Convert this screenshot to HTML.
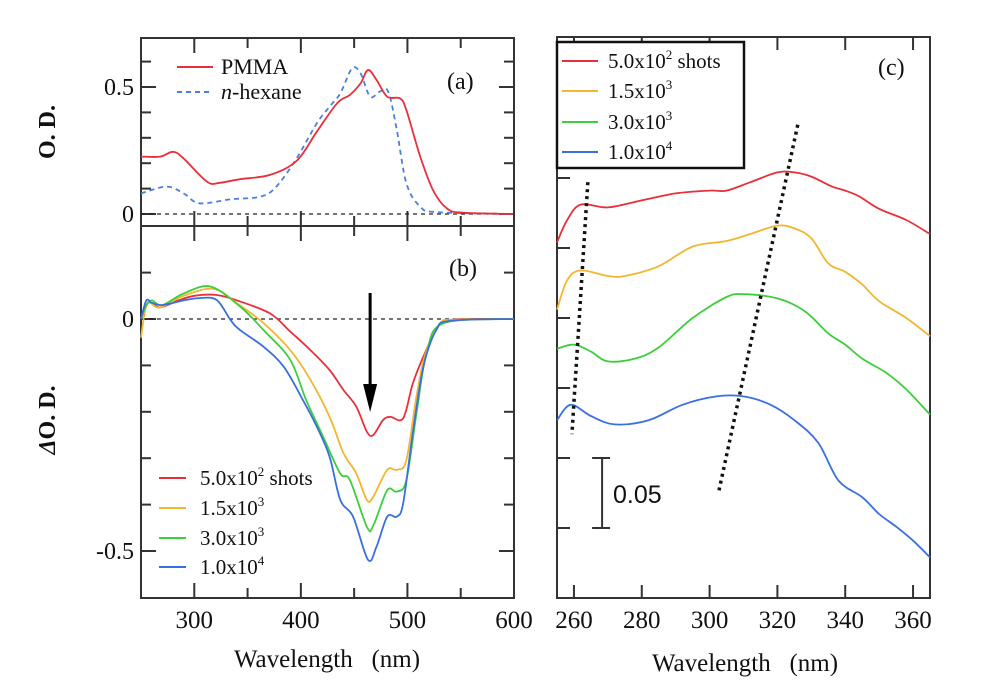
<!DOCTYPE html>
<html><head><meta charset="utf-8"><style>
html,body{margin:0;padding:0;background:#fff;overflow:hidden}
svg{display:block}
svg text{font-family:"Liberation Serif","DejaVu Serif",serif}
svg text.sans{font-family:"Liberation Sans","DejaVu Sans",sans-serif}
</style></head><body>
<svg id="fig" width="1000" height="692" viewBox="0 0 1000 692">
<g id="g"></g>

<g>
  <line x1="177" y1="67" x2="213" y2="67" stroke="#e8303a" stroke-width="2"/>
  <text x="221" y="74" font-size="22" fill="#111">PMMA</text>
  <line x1="177" y1="92" x2="213" y2="92" stroke="#4a7fe0" stroke-width="2" stroke-dasharray="5,4"/>
  <text x="221" y="99" font-size="22" fill="#111"><tspan font-style="italic">n</tspan>-hexane</text>
</g>
<text x="447" y="89" font-size="24" fill="#111">(a)</text>
<text x="449" y="276" font-size="24" fill="#111">(b)</text>
<text x="878" y="75" font-size="24" fill="#111">(c)</text>

<g font-size="21" fill="#111">
  <line x1="159" y1="478" x2="186" y2="478" stroke="#e8303a" stroke-width="2"/>
  <text x="200" y="485">5.0x10<tspan dy="-9" font-size="13">2</tspan><tspan dy="9"> shots</tspan></text>
  <line x1="159" y1="508" x2="186" y2="508" stroke="#f2b630" stroke-width="2"/>
  <text x="200" y="515">1.5x10<tspan dy="-9" font-size="13">3</tspan></text>
  <line x1="159" y1="538" x2="186" y2="538" stroke="#3ccf3c" stroke-width="2"/>
  <text x="200" y="545">3.0x10<tspan dy="-9" font-size="13">3</tspan></text>
  <line x1="159" y1="567" x2="186" y2="567" stroke="#3a6fe0" stroke-width="2"/>
  <text x="200" y="574">1.0x10<tspan dy="-9" font-size="13">4</tspan></text>
</g>

<text transform="translate(55,132) rotate(-90)" text-anchor="middle" font-size="24" font-weight="bold" fill="#111">O. D.</text>
<text transform="translate(55,420) rotate(-90)" text-anchor="middle" font-size="24" font-weight="bold" fill="#111"><tspan font-style="italic">Δ</tspan>O. D.</text>
<text x="327" y="667" text-anchor="middle" font-size="25" fill="#111" xml:space="preserve">Wavelength   (nm)</text>
<text x="745" y="671" text-anchor="middle" font-size="25" fill="#111" xml:space="preserve">Wavelength   (nm)</text>

<g font-size="21" fill="#111">
  <rect x="557" y="42" width="187" height="126" fill="#fff" stroke="#111" stroke-width="2.5"/>
  <line x1="562" y1="61" x2="598" y2="61" stroke="#e8303a" stroke-width="2"/>
  <text x="608" y="68">5.0x10<tspan dy="-9" font-size="13">2</tspan><tspan dy="9"> shots</tspan></text>
  <line x1="562" y1="91" x2="598" y2="91" stroke="#f2b630" stroke-width="2"/>
  <text x="608" y="98">1.5x10<tspan dy="-9" font-size="13">3</tspan></text>
  <line x1="562" y1="122" x2="598" y2="122" stroke="#3ccf3c" stroke-width="2"/>
  <text x="608" y="129">3.0x10<tspan dy="-9" font-size="13">3</tspan></text>
  <line x1="562" y1="152" x2="598" y2="152" stroke="#3a6fe0" stroke-width="2"/>
  <text x="608" y="159">1.0x10<tspan dy="-9" font-size="13">4</tspan></text>
</g>
</svg>
<script>
// ---------- data ----------
const pmmaX=[250,268,280,290,312,324,343,371,396,415,434,446,456,463,471,481,493,499,512,524,537,552,599];
const pmmaY=[0.226,0.226,0.245,0.219,0.127,0.123,0.137,0.154,0.209,0.324,0.436,0.469,0.514,0.567,0.528,0.462,0.455,0.409,0.226,0.094,0.022,0.005,0.0];
const hexX=[250,274,290,305,334,362,377,396,415,427,437,448,456,465,474,482,490,499,512,528,599];
const hexY=[0.081,0.108,0.081,0.042,0.058,0.068,0.108,0.219,0.357,0.423,0.475,0.573,0.554,0.462,0.482,0.482,0.331,0.121,0.029,0.007,0.0];

const bRedX=[250,257,268,285,300,320,340,371,390,409,427,440,452,462,468,477,484,496,505,515,527,540,600];
const bRedY=[0.0,0.035,0.025,0.04,0.05,0.052,0.04,0.012,-0.027,-0.067,-0.110,-0.153,-0.189,-0.243,-0.250,-0.218,-0.211,-0.214,-0.139,-0.081,-0.024,-0.002,0];
const bYelX=[250,254,258,268,290,318,340,365,390,409,427,440,452,462,468,481,490,499,509,518,531,543,600];
const bYelY=[-0.04,0.02,0.035,0.025,0.05,0.065,0.034,-0.009,-0.067,-0.131,-0.211,-0.289,-0.333,-0.390,-0.383,-0.325,-0.325,-0.304,-0.160,-0.067,-0.009,-0.002,0];
const bGrnX=[250,255,260,270,290,315,343,365,390,405,421,437,446,462,468,481,490,499,509,518,534,600];
const bGrnY=[0.0,0.03,0.04,0.03,0.055,0.07,0.027,-0.024,-0.088,-0.175,-0.254,-0.333,-0.347,-0.448,-0.445,-0.369,-0.372,-0.347,-0.196,-0.074,-0.009,0];
const bBluX=[250,255,260,270,290,305,321,334,343,365,384,402,415,427,437,449,463,471,481,490,496,505,515,527,540,600];
const bBluY=[0.0,0.04,0.035,0.03,0.04,0.045,0.041,-0.002,-0.024,-0.060,-0.103,-0.175,-0.232,-0.297,-0.390,-0.426,-0.519,-0.491,-0.426,-0.426,-0.397,-0.246,-0.103,-0.024,-0.004,0];

const cRedX=[255,258,262,270,280,290,300,305,312,320,325,330,336,340,344,350,358,365];
const cRedY=[0.254,0.270,0.281,0.279,0.284,0.289,0.291,0.291,0.297,0.304,0.304,0.301,0.294,0.291,0.287,0.278,0.270,0.260];
const cYelX=[255,258,262,270,275,285,295,305,312,320,325,330,335,340,345,350,358,365];
const cYelY=[0.206,0.227,0.234,0.230,0.230,0.237,0.251,0.255,0.260,0.266,0.264,0.257,0.239,0.233,0.224,0.212,0.200,0.187];
const cGrnX=[255,260,265,270,278,285,295,305,310,320,328,335,340,345,352,358,365];
const cGrnY=[0.178,0.181,0.176,0.169,0.171,0.179,0.200,0.215,0.217,0.214,0.205,0.189,0.181,0.171,0.161,0.149,0.131];
const cBluX=[255,259,265,272,282,292,302,310,318,325,332,338,345,350,355,360,365];
const cBluY=[0.127,0.138,0.130,0.124,0.127,0.138,0.144,0.144,0.138,0.127,0.111,0.084,0.072,0.060,0.051,0.041,0.029];

const abTicks=[300,400,500,600];
const cTicks=[260,280,300,320,340,360];
const colors=["#e8303a","#f2b630","#3ccf3c","#3a6fe0"];

// ---------- axes ----------
const xAB=v=>141+(v-250)*(373/350);
const yA=v=>214-v*254;
const yB=v=>319-v*464;
const xC=v=>557+(v-255)*(373/110);
const yC=v=>598-v*1400;

const NS="http://www.w3.org/2000/svg";
const G=document.getElementById('g');
function el(t,a,parent){const e=document.createElementNS(NS,t);for(const k in a)e.setAttribute(k,a[k]);(parent||G).appendChild(e);return e;}
function smooth(xs,ys,fx,fy){
  const p=xs.map((x,i)=>[fx(x),fy(ys[i])]);
  let d="M"+p[0][0].toFixed(1)+","+p[0][1].toFixed(1);
  for(let i=0;i<p.length-1;i++){
    const p0=p[i-1]||p[i],p1=p[i],p2=p[i+1],p3=p[i+2]||p2;
    const c1=[p1[0]+(p2[0]-p0[0])/6,p1[1]+(p2[1]-p0[1])/6];
    const c2=[p2[0]-(p3[0]-p1[0])/6,p2[1]-(p3[1]-p1[1])/6];
    d+=" C"+c1[0].toFixed(1)+","+c1[1].toFixed(1)+" "+c2[0].toFixed(1)+","+c2[1].toFixed(1)+" "+p2[0].toFixed(1)+","+p2[1].toFixed(1);
  }
  return d;
}
function line(x1,y1,x2,y2,extra){return el('line',Object.assign({x1,y1,x2,y2,stroke:'#333','stroke-width':2},extra||{}));}
function text(x,y,s,size,anchor){const t=el('text',{x,y,'font-size':size,'text-anchor':anchor||'start',fill:'#111'});t.textContent=s;return t;}

let f=el('rect',{x:141,y:38,width:373,height:560,fill:'none',stroke:'#333','stroke-width':2});


f=line(141,226,514,226);


f=el('rect',{x:557,y:37,width:373,height:561,fill:'none',stroke:'#333','stroke-width':2});



for(let v=300;v<=550;v+=50){
  const x=xAB(v),L=v%100==0?15:10;
  line(x,38,x,38+L);line(x,226-L,x,226+L);line(x,598,x,598-L);
}
abTicks.forEach(v=>{
  const t=text(xAB(v),628,String(v),25,'middle');
  
  
});
for(let k=0;k<=6;k++){const v=k*0.1,y=yA(v),L=(k%5==0)?15:10;line(141,y,141+L,y);line(514,y,514-L,y);}
for(let k=-5;k<=1;k++){const v=k*0.1,y=yB(v),L=(k%5==0)?15:10;line(141,y,141+L,y);line(514,y,514-L,y);}
[["0.5",yA(0.5)],["0",yA(0)],["0",yB(0)],["-0.5",yB(-0.5)]].forEach(([s,y])=>{
  const t=text(134,y+8,s,24,'end');
  
  
});
el('line',{x1:141,y1:yA(0),x2:514,y2:yA(0),stroke:'#222','stroke-width':1.2,'stroke-dasharray':'4,4'});
el('line',{x1:141,y1:yB(0),x2:514,y2:yB(0),stroke:'#222','stroke-width':1.2,'stroke-dasharray':'4,4'});

cTicks.forEach(v=>{
  const x=xC(v);line(x,598,x,585);line(x,37,x,50);
  const t=text(x,628,String(v),25,'middle');
  
  
});
for(let k=1;k<=7;k++){const y=yC(k*0.05);line(557,y,570,y);}

function series(xs,ys,fx,fy,color,name,dash){
  const p=el('path',{d:smooth(xs,ys,fx,fy),fill:'none',stroke:color,'stroke-width':1.8});
  if(dash)p.setAttribute('stroke-dasharray',dash);
  
  
}
series(hexX,hexY,xAB,yA,'#4a7fe0','hexane-line','5,4');
series(pmmaX,pmmaY,xAB,yA,'#e8303a','pmma-line');
series(bRedX,bRedY,xAB,yB,colors[0],'b-line-500');
series(bYelX,bYelY,xAB,yB,colors[1],'b-line-1500');
series(bGrnX,bGrnY,xAB,yB,colors[2],'b-line-3000');
series(bBluX,bBluY,xAB,yB,colors[3],'b-line-10000');
series(cRedX,cRedY,xC,yC,colors[0],'c-line-500');
series(cYelX,cYelY,xC,yC,colors[1],'c-line-1500');
series(cGrnX,cGrnY,xC,yC,colors[2],'c-line-3000');
series(cBluX,cBluY,xC,yC,colors[3],'c-line-10000');

let d1=el('line',{x1:xC(264.1),y1:yC(0.297),x2:xC(259.4),y2:yC(0.117),stroke:'#111','stroke-width':3.5,'stroke-dasharray':'3,4'});


let d2=el('line',{x1:xC(326),y1:yC(0.338),x2:xC(302.7),y2:yC(0.076),stroke:'#111','stroke-width':3.5,'stroke-dasharray':'3,4'});



const sbx=xC(268.3);
line(sbx,yC(0.1),sbx,yC(0.05));line(sbx-10,yC(0.1),sbx+8,yC(0.1));line(sbx-10,yC(0.05),sbx+8,yC(0.05));
let sb=text(613,503,"0.05",25,'start');
sb.setAttribute('class','sans');



const ax=xAB(465);
line(ax,293,ax,392,{stroke:'#000','stroke-width':3});
let ar=el('polygon',{points:`${ax-7},384 ${ax+7},384 ${ax},412`,fill:'#000'});


</script>
</body></html>
